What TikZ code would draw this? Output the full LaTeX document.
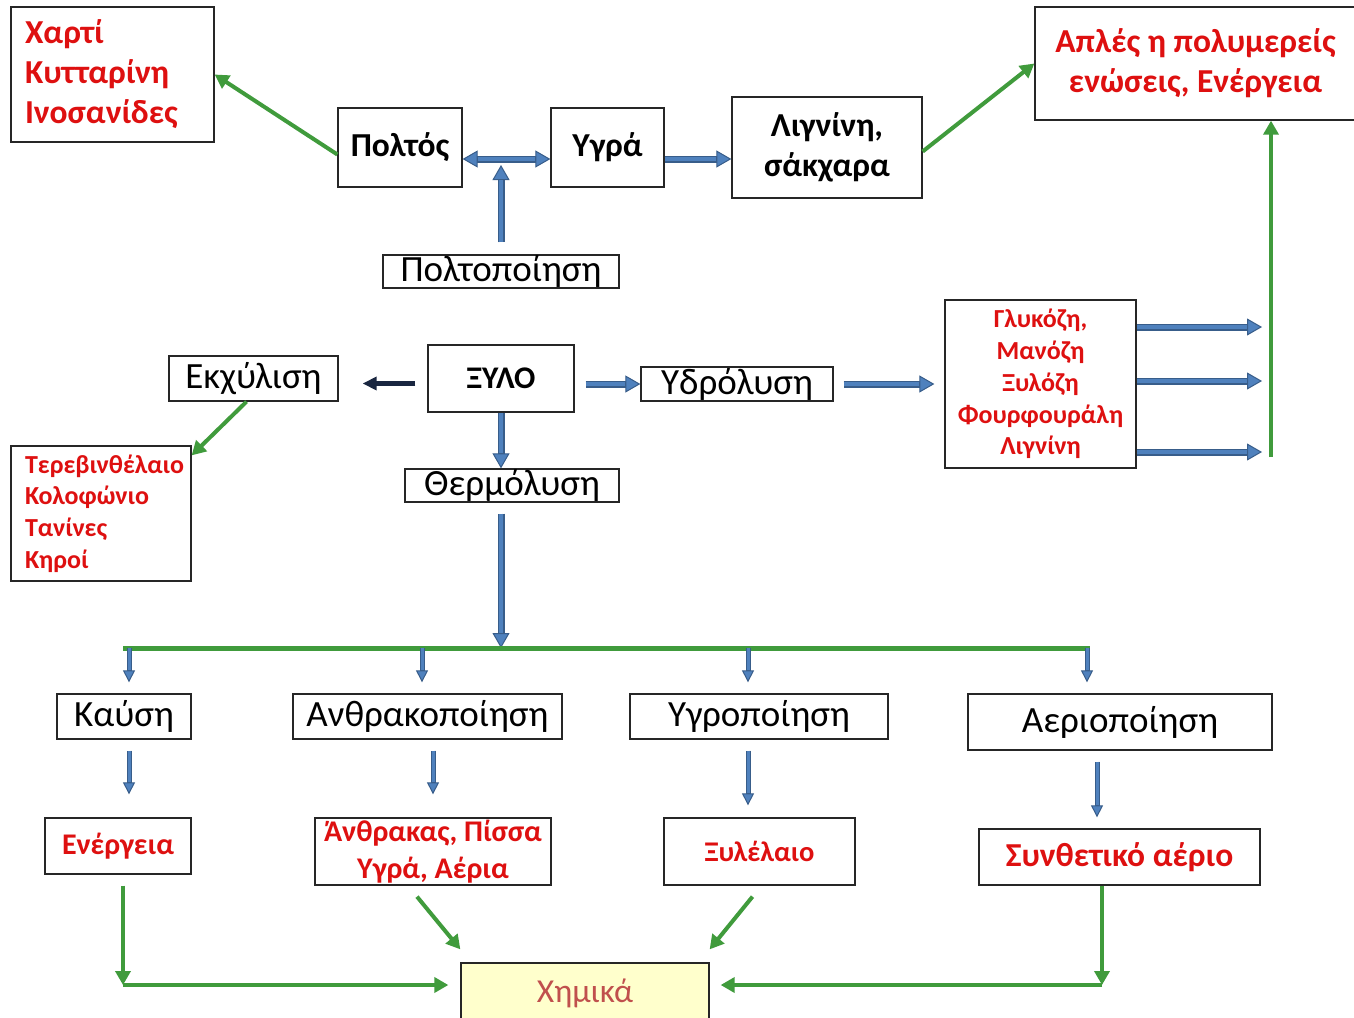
\documentclass[tikz,border=0pt]{standalone}
\usepackage{fontspec}
\setmainfont{Carlito}
\usetikzlibrary{arrows.meta}
\definecolor{grn}{RGB}{64,155,60}
\definecolor{bfill}{RGB}{79,129,189}
\definecolor{bedge}{RGB}{56,93,138}
\definecolor{navy}{RGB}{25,38,64}
\definecolor{rtext}{RGB}{222,16,16}
\definecolor{ctext}{RGB}{192,80,77}
\definecolor{cfill}{RGB}{255,255,204}
\hyphenpenalty=10000
\begin{document}
\begin{tikzpicture}[x=1pt,y=-1pt,
  box/.style={draw=black!85, line width=1.3pt, inner sep=0pt, align=center},
  wh/.style 2 args={minimum width=#1, minimum height=#2},
  proc/.style={font=\fontsize{37}{40}\selectfont},
  bold/.style={font=\fontsize{33.5}{40}\selectfont\bfseries},
  redbig/.style={text=rtext, font=\fontsize{33.5}{40}\selectfont\bfseries},
  redlist/.style={text=rtext, font=\fontsize{26}{31.8}\selectfont\bfseries},
  redmid/.style={text=rtext, font=\fontsize{30}{37}\selectfont\bfseries},
  barrow/.style={draw=bedge, line width=7pt,
    -{Triangle[length=15pt,width=17pt,fill=bfill,line width=1pt]},
    postaction={draw=bfill, line width=4.6pt, -, shorten >=#1}},
  barrow/.default=15pt,
  dbarrow/.style={draw=bedge, line width=7pt,
    {Triangle[length=15pt,width=17pt,fill=bfill,line width=1pt]}-{Triangle[length=15pt,width=17pt,fill=bfill,line width=1pt]},
    postaction={draw=bfill, line width=4.6pt, -, shorten >=15pt, shorten <=15pt}},
  sbarrow/.style={draw=bedge, line width=5pt,
    -{Triangle[length=12pt,width=12pt,fill=bfill,line width=1pt]},
    postaction={draw=bfill, line width=3pt, -, shorten >=#1}},
  sbarrow/.default=12pt,
  narrow/.style={draw=navy, line width=5pt, -{Triangle[length=14pt,width=13pt]}},
  garrow/.style={draw=grn, line width=4pt, -{Triangle[length=14pt,width=15pt]}},
  gline/.style={draw=grn, line width=5pt}
]
\useasboundingbox (0,0) rectangle (1354,1017);
\clip (0,0) rectangle (1354,1017);
\fill[white] (0,0) rectangle (1354,1017);

% top row
\node[box, wh={203}{135}, redbig, text width=175, align=left] (chart) at (112.5,74.5) {Χαρτί\\Κυτταρίνη\\Ινοσανίδες};
\node[box, wh={124}{79}, bold] (poltos) at (400,147.5) {Πολτός};
\node[box, wh={113}{79}, bold] (ygra) at (607.5,147.5) {Υγρά};
\node[box, wh={190}{101}, bold] (lign) at (827,147.5) {Λιγνίνη,\\σάκχαρα};
\node[box, wh={321}{113}, redbig] (aples) at (1195.5,63.5) {Απλές η πολυμερείς\\ενώσεις, Ενέργεια};
\node[box, wh={236}{33}, proc] (poltop) at (501,271.5) {Πολτοποίηση};

% middle row
\node[box, wh={169}{45}, proc] (ekx) at (253.5,378.5) {Εκχύλιση};
\node[box, wh={146}{67}, font=\fontsize{31.5}{34}\selectfont\bfseries] (xylo) at (501,378.5) {ΞΥΛΟ};
\node[box, wh={192}{34}, proc] (ydro) at (737,384) {Υδρόλυση};
\node[box, wh={191}{168}, redlist] (glyk) at (1040.5,384) {Γλυκόζη,\\Μανόζη\\Ξυλόζη\\Φουρφουράλη\\Λιγνίνη};
\node[box, wh={180}{135}, redlist, text width=152, align=left] (tereb) at (101,513.5) {Τερεβινθέλαιο\\Κολοφώνιο\\Τανίνες\\Κηροί};
\node[box, wh={214}{33}, proc] (therm) at (512,485.5) {Θερμόλυση};

% thermal processes
\node[box, wh={134}{45}, proc] (kaysi) at (124,716.5) {Καύση};
\node[box, wh={269}{45}, proc] (anthr) at (427.5,716.5) {Ανθρακοποίηση};
\node[box, wh={258}{45}, proc] (ygrop) at (759,716.5) {Υγροποίηση};
\node[box, wh={304}{56}, proc] (aerio) at (1120,722) {Αεριοποίηση};

% products
\node[box, wh={146}{56}, redmid] (energ) at (118,846) {Ενέργεια};
\node[box, wh={236}{67}, redmid] (anthrP) at (433,851.5) {Άνθρακας, Πίσσα\\Υγρά, Αέρια};
\node[box, wh={191}{67}, text=rtext, font=\fontsize{28.5}{34}\selectfont\bfseries] (xylel) at (759.5,851.5) {Ξυλέλαιο};
\node[box, wh={281}{56}, text=rtext, font=\fontsize{33.5}{38}\selectfont\bfseries] (synth) at (1119.5,857) {Συνθετικό αέριο};
\node[box, wh={248}{60}, fill=cfill, text=ctext, font=\fontsize{33.5}{38}\selectfont] (chem) at (585,993) {Χημικά};

% junction points
\coordinate (pj) at (501,159);
\coordinate (gbar) at (1271,457);
\coordinate (h1) at (1262,327);
\coordinate (h2) at (1262,381);
\coordinate (h3) at (1262,452);
\coordinate (split) at (501,648);
\coordinate (gl) at (123,648);
\coordinate (gr) at (1090,648);
\coordinate (k1) at (129,648);
\coordinate (k2) at (422,648);
\coordinate (k3) at (748,648);
\coordinate (k4) at (1087,648);
\coordinate (a5) at (1097,761);
\coordinate (c1) at (123,985);
\coordinate (c2) at (1102,985);

% pulp branch
\draw[dbarrow] (poltos.east |- pj) -- (ygra.west |- pj);
\draw[barrow] (ygra.east |- pj) -- (lign.west |- pj);
\draw[barrow=21pt, shorten <=12pt, shorten >=6pt] (poltop.north) -- (pj);
\draw[garrow] ([yshift=-7pt]poltos.west) -- (chart.east);
\draw[garrow] ([yshift=-4pt]lign.east) -- (aples.west);

% wood branches
\draw[narrow, shorten <=12pt, shorten >=24pt] ([yshift=-5pt]xylo.west) -- ([yshift=-5pt]ekx.east);
\draw[barrow, shorten <=11pt] (xylo.east |- ydro.west) -- (ydro.west);
\draw[barrow=25pt, shorten <=10pt, shorten >=10pt] (ydro.east) -- (glyk.west);
\draw[garrow] ([xshift=-7pt]ekx.south) -- ([yshift=-10pt]tereb.north east);
\draw[barrow] (glyk.east |- h1) -- (h1);
\draw[barrow] (glyk.east |- h2) -- (h2);
\draw[barrow] (glyk.east |- h3) -- (h3);
\draw[garrow] (gbar) -- (gbar |- aples.south);

% thermal branch
\draw[barrow] (xylo.south) -- (xylo.south |- therm.north);
\draw[barrow, shorten <=11pt] (xylo.south |- therm.south) -- (split);
\draw[gline] (gl) -- (gr);
\draw[sbarrow=23pt, shorten >=11pt] (k1) -- (k1 |- kaysi.north);
\draw[sbarrow=23pt, shorten >=11pt] (k2) -- (k2 |- anthr.north);
\draw[sbarrow=23pt, shorten >=11pt] (k3) -- (k3 |- ygrop.north);
\draw[sbarrow=23pt, shorten >=11pt] (k4) -- (k4 |- aerio.north);

\draw[sbarrow=35pt, shorten <=11pt, shorten >=23pt] (k1 |- kaysi.south) -- (k1 |- energ.north);
\draw[sbarrow=35pt, shorten <=11pt, shorten >=23pt] (anthrP.north |- anthr.south) -- (anthrP.north);
\draw[sbarrow=24pt, shorten <=11pt, shorten >=12pt] (k3 |- ygrop.south) -- (k3 |- xylel.north);
\draw[sbarrow=23pt, shorten <=11pt, shorten >=11pt] (a5 |- aerio.south) -- (a5 |- synth.north);

% routes to chemicals
\draw[garrow, shorten <=11pt] (c1 |- energ.south) -- (c1);
\draw[garrow, shorten >=12pt] (c1) -- (c1 -| chem.west);
\draw[garrow] ([xshift=-16pt,yshift=-11pt]anthrP.south) -- ([yshift=13pt]chem.north west);
\draw[garrow] ([xshift=-7pt,yshift=-11pt]xylel.south) -- ([yshift=13pt]chem.north east);
\draw[garrow] (c2 |- synth.south) -- (c2);
\draw[garrow, shorten >=11pt] (c2) -- (c2 -| chem.east);
\end{tikzpicture}
\end{document}
